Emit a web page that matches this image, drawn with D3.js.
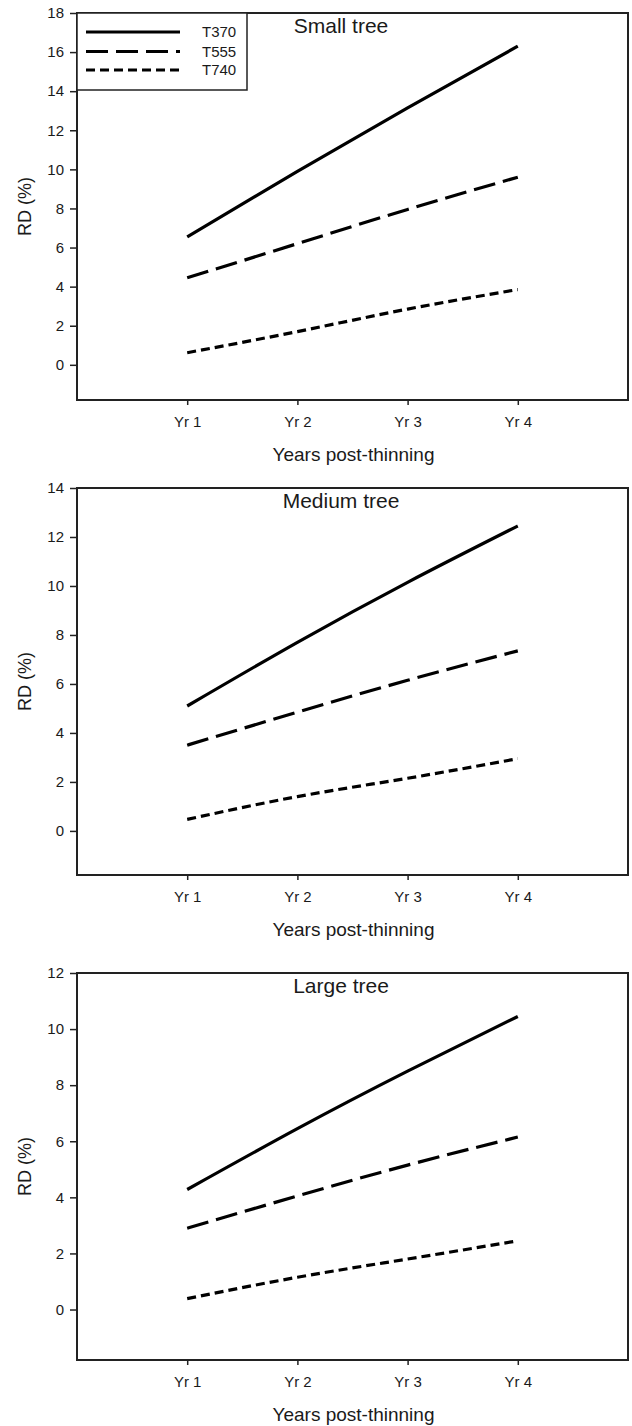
<!DOCTYPE html>
<html>
<head>
<meta charset="utf-8">
<script src="https://cdn.jsdelivr.net/npm/d3@7"></script>
<style>
  body { margin: 0; background: #fff; }
  text { font-family: "Liberation Sans", Arial, sans-serif; fill: #1a1a1a; }
  .axis path, .axis line { stroke: #222; }
</style>
</head>
<body>
<svg id="chart" width="632" height="1426"></svg>
<script>
// values (RD %, years 1-4)
var years = ["Yr 1", "Yr 2", "Yr 3", "Yr 4"];
var treatments = ["T370", "T555", "T740"];
var panelTitles = ["Small tree", "Medium tree", "Large tree"];
var yMax = [18, 14, 12];

var small370 = [6.55, 9.9, 13.15, 16.3];
var small555 = [4.45, 6.2, 7.95, 9.6];
var small740 = [0.62, 1.7, 2.85, 3.85];

var medium370 = [5.1, 7.7, 10.15, 12.45];
var medium555 = [3.5, 4.85, 6.15, 7.35];
var medium740 = [0.47, 1.4, 2.15, 2.95];

var large370 = [4.28, 6.45, 8.5, 10.45];
var large555 = [2.9, 4.05, 5.15, 6.15];
var large740 = [0.39, 1.15, 1.8, 2.45];

var panels = [
  [small370, small555, small740],
  [medium370, medium555, medium740],
  [large370, large555, large740]
];

var dashes = [null, "22,8", "9,5"];
var tops = [13, 488, 973];
var left = 77, right = 628, h = 387;

var svg = d3.select("#chart");

var x = d3.scaleLinear().domain([0, 5]).range([left, right]);

panels.forEach(function(series, p) {
  var top = tops[p];
  var y = d3.scaleLinear().domain([-1.8, yMax[p]]).range([top + h, top]);
  var g = svg.append("g");

  // frame
  g.append("rect")
    .attr("x", left).attr("y", top)
    .attr("width", right - left).attr("height", h)
    .attr("fill", "none").attr("stroke", "#222").attr("stroke-width", 2);

  var yAxis = g.append("g").attr("class", "axis")
    .attr("transform", "translate(" + left + ",0)")
    .call(d3.axisLeft(y).tickValues(d3.range(0, yMax[p] + 0.1, 2)).tickSize(7).tickPadding(6).tickFormat(d3.format("d")));
  yAxis.select(".domain").remove();
  yAxis.selectAll("line").attr("stroke-width", 1.5);
  yAxis.selectAll("text").style("font-size", "15px").attr("fill", "#1a1a1a");

  var xAxis = g.append("g").attr("class", "axis")
    .attr("transform", "translate(0," + (top + h) + ")")
    .call(d3.axisBottom(x).tickValues([1, 2, 3, 4]).tickSize(5).tickPadding(11)
      .tickFormat(function(d) { return years[d - 1]; }));
  xAxis.select(".domain").remove();
  xAxis.selectAll("line").attr("stroke-width", 1.5);
  xAxis.selectAll("text").style("font-size", "15px").attr("fill", "#1a1a1a");

  // lines
  var line = d3.line()
    .x(function(d, i) { return x(i + 1); })
    .y(function(d) { return y(d); })
    .curve(d3.curveNatural);

  series.forEach(function(vals, k) {
    g.append("path")
      .attr("d", line(vals))
      .attr("fill", "none")
      .attr("stroke", "#000")
      .attr("stroke-width", 3.2)
      .attr("stroke-dasharray", dashes[k]);
  });

  // title
  g.append("text")
    .attr("x", 341).attr("y", top + 20)
    .attr("text-anchor", "middle")
    .style("font-size", "21px")
    .text(panelTitles[p]);

  // axis labels
  g.append("text")
    .attr("x", (left + right) / 2 + 1).attr("y", top + h + 61)
    .attr("text-anchor", "middle")
    .style("font-size", "19px")
    .text("Years post-thinning");

  g.append("text")
    .attr("transform", "translate(31," + (top + h / 2) + ") rotate(-90)")
    .attr("text-anchor", "middle")
    .style("font-size", "18px")
    .text("RD (%)");
});

// legend (first panel only)
var leg = svg.append("g");
leg.append("rect")
  .attr("x", left).attr("y", 13).attr("width", 170).attr("height", 77)
  .attr("fill", "#fff").attr("stroke", "#222").attr("stroke-width", 1.5);
var legY = [32, 51.5, 70];
treatments.forEach(function(t, k) {
  leg.append("line")
    .attr("x1", 86).attr("x2", 180)
    .attr("y1", legY[k]).attr("y2", legY[k])
    .attr("stroke", "#000").attr("stroke-width", 3.2)
    .attr("stroke-dasharray", dashes[k]);
  leg.append("text")
    .attr("x", 202).attr("y", legY[k] + 5)
    .style("font-size", "15px")
    .text(t);
});
</script>
</body>
</html>
